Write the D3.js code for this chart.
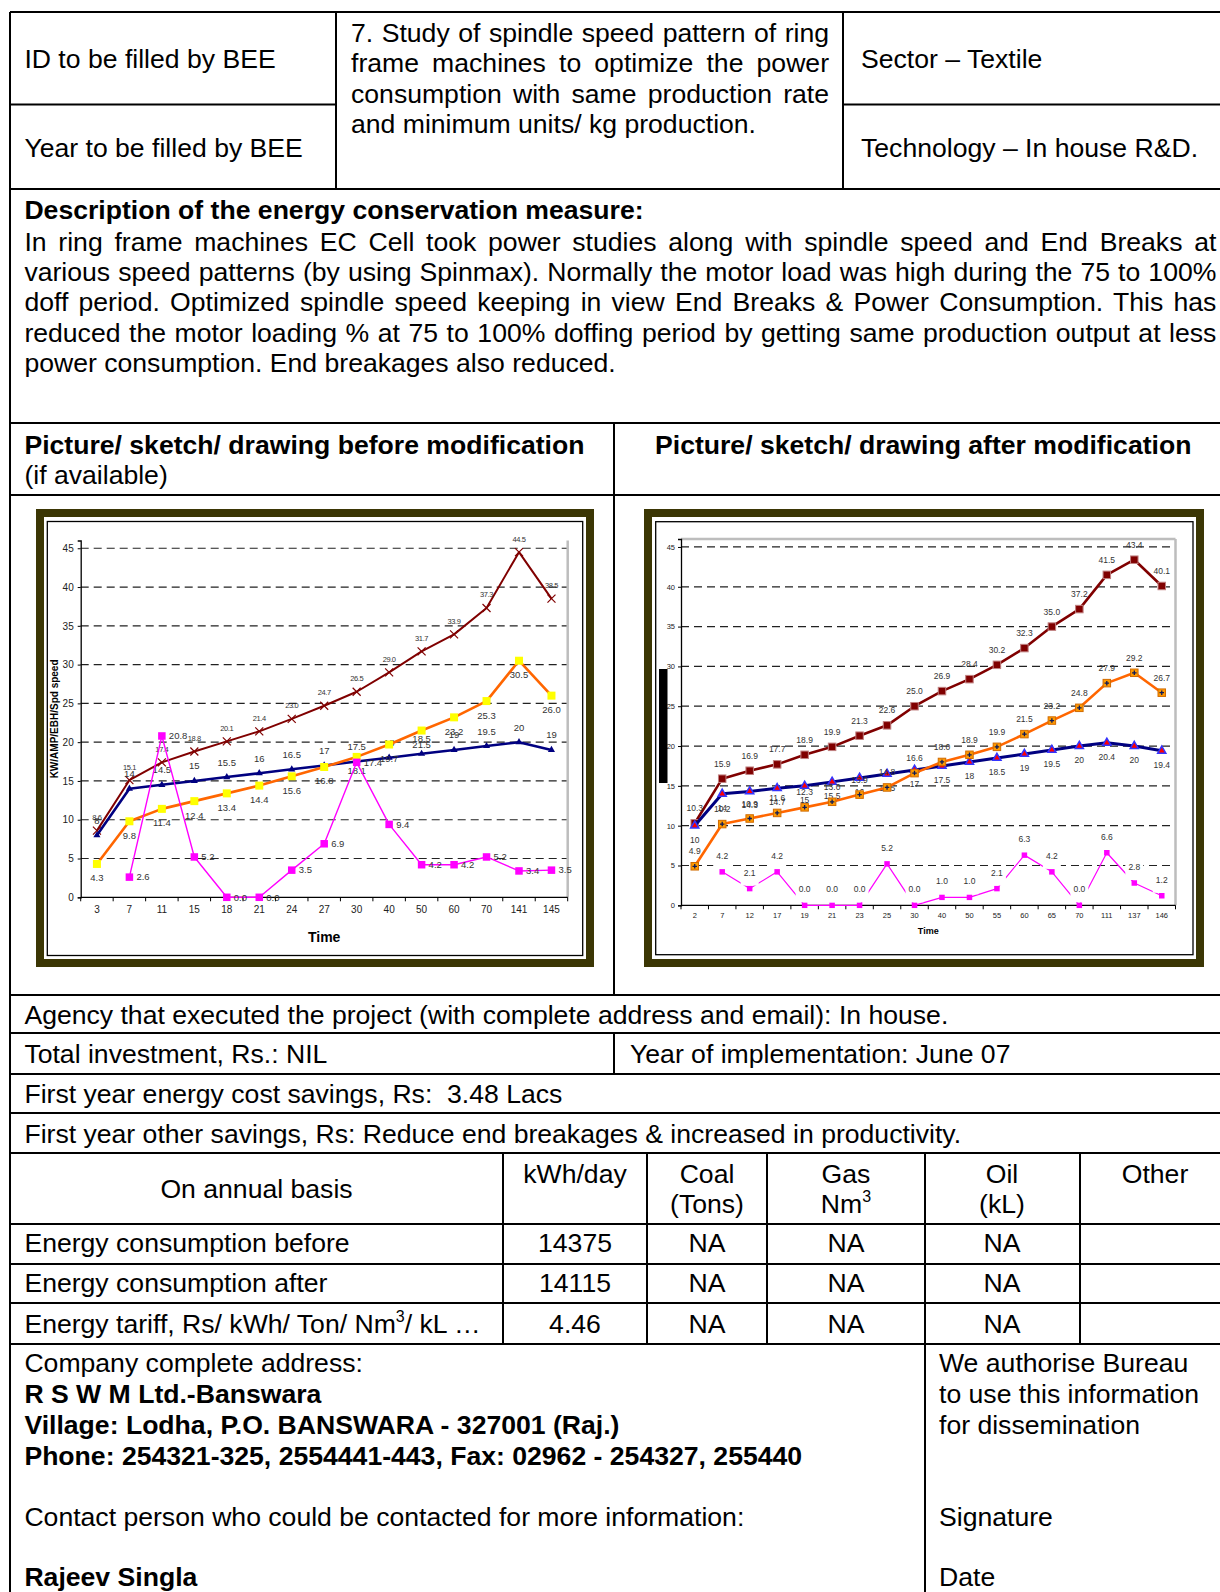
<!DOCTYPE html>
<html>
<head>
<meta charset="utf-8">
<script src="https://cdn.jsdelivr.net/npm/d3@7"></script>
<style>
  html, body { margin: 0; padding: 0; background: #fff; }
</style>
</head>
<body>
<svg id="page" width="1220" height="1592"></svg>
<script>
// ---- chart values ----
const beforeTimes = ["3", "7", "11", "15", "18", "21", "24", "27", "30", "40", "50", "60", "70", "141", "145"];
const beforeAmp = [8.6, 15.1, 17.4, 18.8, 20.1, 21.4, 23.0, 24.7, 26.5, 29.0, 31.7, 33.9, 37.3, 44.5, 38.5];
const beforeSpd = [8, 14, 14.5, 15, 15.5, 16, 16.5, 17, 17.5, 18, 18.5, 19, 19.5, 20, 19];
const beforeKw = [4.3, 9.8, 11.4, 12.4, 13.4, 14.4, 15.6, 16.8, 18.1, 19.7, 21.5, 23.2, 25.3, 30.5, 26.0];
const beforeEbh = [null, 2.6, 20.8, 5.2, 0.0, 0.0, 3.5, 6.9, 17.4, 9.4, 4.2, 4.2, 5.2, 3.4, 3.5];

const afterTimes = ["2", "7", "12", "17", "19", "21", "23", "25", "30", "40", "50", "55", "60", "65", "70", "111", "137", "146"];
const afterAmp = [10.3, 15.9, 16.9, 17.7, 18.9, 19.9, 21.3, 22.6, 25.0, 26.9, 28.4, 30.2, 32.3, 35.0, 37.2, 41.5, 43.4, 40.1];
const afterSpd = [10, 14, 14.3, 14.7, 15, 15.5, 16, 16.5, 17, 17.5, 18, 18.5, 19, 19.5, 20, 20.4, 20, 19.4];
const afterKw = [4.9, 10.2, 10.9, 11.6, 12.3, 13.0, 13.9, 14.8, 16.6, 18.0, 18.9, 19.9, 21.5, 23.2, 24.8, 27.9, 29.2, 26.7];
const afterEbh = [null, 4.2, 2.1, 4.2, 0.0, 0.0, 0.0, 5.2, 0.0, 1.0, 1.0, 2.1, 6.3, 4.2, 0.0, 6.6, 2.8, 1.2];

const yTickValues = [0, 5, 10, 15, 20, 25, 30, 35, 40, 45];

const F = '"Liberation Sans", Arial, sans-serif';
const FS = 26.6;
const svg = d3.select("#page");

// ---- text helpers ----
function txt(x, y, s, o = {}) {
    const t = svg.append("text")
        .attr("x", x).attr("y", y)
        .attr("font-family", F)
        .attr("font-size", o.size || FS)
        .attr("font-weight", o.bold ? "bold" : null)
        .attr("text-anchor", o.anchor || "start")
        .attr("fill", o.fill || "#000")
        .text(s);
    if (o.justify) {
        let w = t.node().getComputedTextLength();
        let n = (s.match(/ /g) || []).length;
        if (n) t.attr("word-spacing", (o.justify - w) / n);
    }
    return t;
}

function hline(x1, x2, y) {
    svg.append("line").attr("x1", x1).attr("x2", x2).attr("y1", y).attr("y2", y)
        .attr("stroke", "#000").attr("stroke-width", 2);
}
function vline(x, y1, y2) {
    svg.append("line").attr("x1", x).attr("x2", x).attr("y1", y1).attr("y2", y2)
        .attr("stroke", "#000").attr("stroke-width", 2);
}

// ---- table grid ----
const R = 1222;
hline(10, R, 12);
vline(10, 12, 1592);
vline(336, 12, 189);
vline(843, 12, 189);
hline(10, 336, 104.5);
hline(843, R, 104.5);
[189, 423, 495, 995, 1033, 1074, 1113, 1153, 1224, 1264, 1303, 1344].forEach(y => hline(10, R, y));
vline(614, 423, 995);
vline(614, 1033, 1074);
[503, 647, 767, 925, 1080].forEach(x => vline(x, 1153, 1344));
vline(925, 1344, 1592);

// ---- header texts ----
txt(24.4, 68, "ID to be filled by BEE");
txt(24.4, 157, "Year to be filled by BEE");
txt(351, 41.5, "7. Study of spindle speed pattern of ring", {justify: 478});
txt(351, 72, "frame machines to optimize the power", {justify: 478});
txt(351, 102.5, "consumption with same production rate", {justify: 478});
txt(351, 133, "and minimum units/ kg production.");
txt(861, 68, "Sector \u2013 Textile");
txt(861, 157, "Technology \u2013 In house R&D.");

txt(24.4, 219, "Description of the energy conservation measure:", {bold: true});
const descLines = [
    "In ring frame machines EC Cell took power studies along with spindle speed and End Breaks at",
    "various speed patterns (by using Spinmax). Normally the motor load was high during the 75 to 100%",
    "doff period. Optimized spindle speed keeping in view End Breaks & Power Consumption. This has",
    "reduced the motor loading % at 75 to 100% doffing period by getting same production output at less",
    "power consumption. End breakages also reduced."
];
descLines.forEach((l, i) => {
    txt(24.4, 250.5 + i * 30.45, l, i < descLines.length - 1 ? {justify: 1192} : {});
});

txt(24.4, 453.5, "Picture/ sketch/ drawing before modification", {bold: true});
txt(24.4, 484, "(if available)");
txt(655, 453.5, "Picture/ sketch/ drawing after modification", {bold: true});

// ---- charts ----
function drawChart(cfg) {
    const g = svg.append("g");
    // olive outer frame and inner thin border
    g.append("rect").attr("x", cfg.frame[0]).attr("y", cfg.frame[1])
        .attr("width", cfg.frame[2]).attr("height", cfg.frame[3])
        .attr("fill", "#fff").attr("stroke", "#3b3604").attr("stroke-width", 8);
    g.append("rect").attr("x", cfg.inner[0]).attr("y", cfg.inner[1])
        .attr("width", cfg.inner[2]).attr("height", cfg.inner[3])
        .attr("fill", "#fff").attr("stroke", "#000").attr("stroke-width", 1.3);

    const x = d3.scaleBand().domain(cfg.cats).range([cfg.left, cfg.right]);
    const y = d3.scaleLinear().domain([0, 46]).range([cfg.bottom, cfg.top]);
    const cx = d => x(d) + x.bandwidth() / 2;

    // gridlines
    g.selectAll(".grid").data(yTickValues.filter(v => v > 0)).join("line")
        .attr("x1", cfg.left).attr("x2", cfg.right)
        .attr("y1", d => y(d)).attr("y2", d => y(d))
        .attr("stroke", "#222").attr("stroke-width", 1.2)
        .attr("stroke-dasharray", cfg.dash);

    // gray plot border
    g.append("line").attr("x1", cfg.right).attr("x2", cfg.right)
        .attr("y1", cfg.top).attr("y2", cfg.bottom)
        .attr("stroke", "#bdbdbd").attr("stroke-width", 2.5);
    if (cfg.grayTop) {
        g.append("line").attr("x1", cfg.left).attr("x2", cfg.right)
            .attr("y1", cfg.top).attr("y2", cfg.top)
            .attr("stroke", "#bdbdbd").attr("stroke-width", 2.5);
    }

    // y axis
    const ya = g.append("g").attr("transform", `translate(${cfg.left},0)`)
        .call(d3.axisLeft(y).tickValues(yTickValues).tickSize(3).tickPadding(cfg.yPad));
    ya.select(".domain").attr("stroke", "#000").attr("stroke-width", 1.3);
    ya.selectAll(".tick line").attr("stroke", "#000");
    ya.selectAll("text").attr("font-family", F).attr("font-size", cfg.tickSize).attr("fill", "#222");

    // x axis: labels at centres, ticks on band boundaries
    const xa = g.append("g").attr("transform", `translate(0,${cfg.bottom})`)
        .call(d3.axisBottom(x).tickSize(0).tickPadding(cfg.xPad));
    xa.select(".domain").remove();
    xa.selectAll("text").attr("font-family", F).attr("font-size", cfg.tickSize).attr("fill", "#222");
    g.append("line").attr("x1", cfg.left).attr("x2", cfg.right)
        .attr("y1", cfg.bottom).attr("y2", cfg.bottom)
        .attr("stroke", "#000").attr("stroke-width", 1.3);
    g.selectAll(".xt").data(d3.range(cfg.cats.length + 1)).join("line")
        .attr("x1", i => cfg.left + i * x.step()).attr("x2", i => cfg.left + i * x.step())
        .attr("y1", cfg.bottom).attr("y2", cfg.bottom + 4)
        .attr("stroke", "#000");

    // axis titles
    g.append("text").attr("x", (cfg.left + cfg.right) / 2).attr("y", cfg.timeY)
        .attr("text-anchor", "middle").attr("font-family", F)
        .attr("font-weight", "bold").attr("font-size", cfg.timeSize).text("Time");
    if (cfg.yTitle) {
        g.append("text")
            .attr("transform", `translate(${cfg.yTitle.x},${(cfg.top + cfg.bottom) / 2}) rotate(-90)`)
            .attr("text-anchor", "middle").attr("font-family", F)
            .attr("font-weight", "bold").attr("font-size", 10).text(cfg.yTitle.text);
    }
    if (cfg.bar) {
        g.append("rect").attr("x", cfg.bar[0]).attr("y", cfg.bar[1])
            .attr("width", cfg.bar[2]).attr("height", cfg.bar[3]).attr("fill", "#000");
    }

    // series
    cfg.series.forEach(s => {
        const pts = cfg.cats.map((c, i) => ({c: c, v: s.values[i]})).filter(d => d.v !== null);
        const line = d3.line().x(d => cx(d.c)).y(d => y(d.v));
        g.append("path").datum(pts).attr("d", line)
            .attr("fill", "none").attr("stroke", s.color).attr("stroke-width", s.width)
            .attr("stroke-linejoin", "round");

        const m = g.append("g").selectAll("g").data(pts).join("g")
            .attr("transform", d => `translate(${cx(d.c)},${y(d.v)})`);
        const k = s.mSize / 2;
        if (s.marker === "x") {
            m.append("path").attr("d", `M${-k},${-k}L${k},${k}M${-k},${k}L${k},${-k}`)
                .attr("stroke", s.mFill).attr("stroke-width", 1.2).attr("fill", "none");
        } else if (s.marker === "tri") {
            m.append("path").attr("d", d3.symbol(d3.symbolTriangle, s.mSize * s.mSize * 0.45)())
                .attr("fill", s.mFill).attr("stroke", s.mStroke || "none").attr("stroke-width", 1.5);
        } else {
            m.append("rect").attr("x", -k).attr("y", -k).attr("width", s.mSize).attr("height", s.mSize)
                .attr("fill", s.mFill).attr("stroke", s.mStroke || "none").attr("stroke-width", 1);
            if (s.marker === "squarePlus") {
                m.append("path").attr("d", `M${-k + 1.5},0H${k - 1.5}M0,${-k + 1.5}V${k - 1.5}`)
                    .attr("stroke", "#0a1a5c").attr("stroke-width", 1.3);
            }
        }

        // data labels
        const lab = g.append("g").selectAll("g").data(pts).join("g")
            .attr("transform", d => `translate(${cx(d.c) + s.dx},${y(d.v) + s.dy})`);
        const lt = d => s.fmt ? d.v.toFixed(1) : String(d.v);
        if (s.labelBg) {
            lab.append("rect").attr("x", -9).attr("y", -s.lSize + 1)
                .attr("width", 18).attr("height", s.lSize + 9).attr("fill", "#fff");
        }
        lab.append("text").attr("text-anchor", s.anchor)
            .attr("font-family", F).attr("font-size", s.lSize)
            .attr("letter-spacing", s.ls || 0)
            .attr("fill", "#333").text(lt);
    });
}

drawChart({
    frame: [40, 513, 550, 450],
    inner: [47.3, 521.5, 535.4, 434],
    left: 80.7, right: 567.7, top: 540.5, bottom: 897.3,
    cats: beforeTimes,
    dash: "8,5",
    tickSize: 10, yPad: 4, xPad: 9,
    timeY: 942, timeSize: 14,
    yTitle: {x: 58, text: "KW/AMP/EBH/Spd speed"},
    series: [
        {values: beforeAmp, color: "#800000", width: 2, marker: "x", mFill: "#800000", mSize: 8,
         dx: 0, dy: -10.5, lSize: 7.5, anchor: "middle", fmt: true, ls: -0.4},
        {values: beforeSpd, color: "#000080", width: 2.6, marker: "tri", mFill: "#000080", mSize: 7,
         dx: 0, dy: -11.5, lSize: 9.5, anchor: "middle", fmt: false},
        {values: beforeKw, color: "#ff6600", width: 2.6, marker: "square", mFill: "#ffff00", mSize: 8,
         dx: 0, dy: 17.5, lSize: 9.5, anchor: "middle", fmt: true},
        {values: beforeEbh, color: "#ff00ff", width: 1.4, marker: "square", mFill: "#ff00ff", mSize: 7.5,
         dx: 7, dy: 3.3, lSize: 9.5, anchor: "start", fmt: true}
    ]
});

drawChart({
    frame: [648, 513, 552, 450],
    inner: [655.7, 521.7, 537.3, 433],
    left: 681, right: 1175.5, top: 539, bottom: 905.3,
    cats: afterTimes,
    dash: "8,5",
    tickSize: 7.5, yPad: 3, xPad: 7,
    timeY: 934, timeSize: 9,
    grayTop: true,
    bar: [659, 669, 8.5, 114],
    series: [
        {values: afterEbh, color: "#ff00ff", width: 1.2, marker: "square", mFill: "#ff00ff", mSize: 5.5,
         dx: 0, dy: -13, lSize: 8.5, anchor: "middle", fmt: true, labelBg: true},
        {values: afterAmp, color: "#800000", width: 2.6, marker: "square", mFill: "#800000", mStroke: "#c08080", mSize: 7.5,
         dx: 0, dy: -12, lSize: 8.5, anchor: "middle", fmt: true},
        {values: afterSpd, color: "#000080", width: 3, marker: "tri", mFill: "#ff0000", mStroke: "#3333ff", mSize: 8,
         dx: 0, dy: 17, lSize: 8.5, anchor: "middle", fmt: false},
        {values: afterKw, color: "#ff6600", width: 2.6, marker: "squarePlus", mFill: "#ff9900", mStroke: "#d06a00", mSize: 7.5,
         dx: 0, dy: -12, lSize: 8.5, anchor: "middle", fmt: true}
    ]
});

// ---- lower part of the form ----
txt(24.4, 1024, "Agency that executed the project (with complete address and email): In house.");
txt(24.4, 1062.5, "Total investment, Rs.: NIL");
txt(630, 1062.5, "Year of implementation: June 07");
txt(24.4, 1103, "First year energy cost savings, Rs:  3.48 Lacs").attr("xml:space", "preserve");
txt(24.4, 1143, "First year other savings, Rs: Reduce end breakages & increased in productivity.");

txt(256.5, 1198, "On annual basis", {anchor: "middle"});
txt(575, 1183, "kWh/day", {anchor: "middle"});
txt(707, 1183, "Coal", {anchor: "middle"});
txt(707, 1213, "(Tons)", {anchor: "middle"});
txt(846, 1183, "Gas", {anchor: "middle"});
const nm = txt(846, 1213, "Nm", {anchor: "middle"});
nm.append("tspan").attr("font-size", 16).attr("dy", -11).text("3");
txt(1002, 1183, "Oil", {anchor: "middle"});
txt(1002, 1213, "(kL)", {anchor: "middle"});
txt(1155, 1183, "Other", {anchor: "middle"});

const rowLabels = ["Energy consumption before", "Energy consumption after"];
const rowKwh = ["14375", "14115", "4.46"];
const rowBase = [1252, 1292, 1332.5];
rowLabels.forEach((l, i) => txt(24.4, rowBase[i], l));
const tariff = txt(24.4, rowBase[2], "Energy tariff, Rs/ kWh/ Ton/ Nm");
tariff.append("tspan").attr("font-size", 16).attr("dy", -11).text("3");
tariff.append("tspan").attr("dy", 11).text("/ kL \u2026");
rowBase.forEach((b, i) => {
    txt(575, b, rowKwh[i], {anchor: "middle"});
    [707, 846, 1002].forEach(cxp => txt(cxp, b, "NA", {anchor: "middle"}));
});

txt(24.4, 1372, "Company complete address:");
txt(24.4, 1402.6, "R S W M Ltd.-Banswara", {bold: true});
txt(24.4, 1434, "Village: Lodha, P.O. BANSWARA - 327001 (Raj.)", {bold: true});
txt(24.4, 1464.5, "Phone: 254321-325, 2554441-443, Fax: 02962 - 254327, 255440", {bold: true});
txt(24.4, 1525.5, "Contact person who could be contacted for more information:");
txt(24.4, 1586, "Rajeev Singla", {bold: true});

txt(939, 1372, "We authorise Bureau");
txt(939, 1402.6, "to use this information");
txt(939, 1434, "for dissemination");
txt(939, 1525.5, "Signature");
txt(939, 1586, "Date");
</script>
</body>
</html>
